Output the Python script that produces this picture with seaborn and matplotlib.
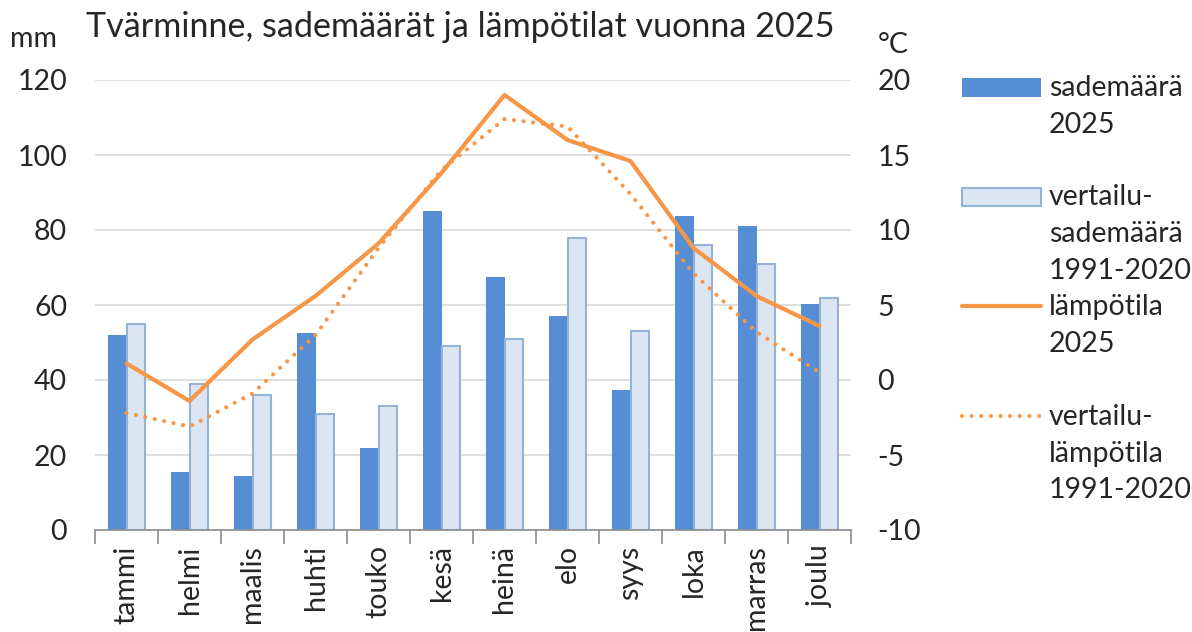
import numpy as np
import pandas as pd
import matplotlib
matplotlib.use("Agg")
import matplotlib.pyplot as plt
import seaborn as sns
from matplotlib.patches import Rectangle
from matplotlib.lines import Line2D

# data
kuukaudet = ["tammi", "helmi", "maalis", "huhti", "touko", "kesä",
             "heinä", "elo", "syys", "loka", "marras", "joulu"]
sade_2025 = [52, 15.5, 14.5, 52.5, 21.8, 85, 67.5, 57.2, 37.3, 83.8, 81.2, 60.4]
sade_vertailu = [55, 39, 36, 31, 33, 49, 51, 78, 53, 76, 71, 62]
lampo_2025 = [1.1, -1.4, 2.7, 5.6, 9.1, 13.8, 19.0, 16.0, 14.6, 8.8, 5.6, 3.6]
lampo_vertailu = [-2.2, -3.1, -0.9, 3.0, 8.8, 14.0, 17.4, 16.9, 12.4, 7.1, 3.2, 0.5]
sarjat = ["sademäärä\n2025", "vertailu-\nsademäärä\n1991-2020",
          "lämpötila\n2025", "vertailu-\nlämpötila\n1991-2020"]

sininen = "#558ED5"
vaalea = "#DCE6F2"
reuna = "#95B3D7"
oranssi = "#F79646"

sns.set_theme(style="white")
plt.rcParams['font.family'] = ['Lato', 'DejaVu Sans']
plt.rcParams['axes.unicode_minus'] = False
fs = 20.5

W, H = 1192, 632
fig = plt.figure(figsize=(W / 100, H / 100), dpi=100)
ax = fig.add_axes([95 / W, 1 - 530 / H, (851 - 95) / W, (530 - 80) / H])

df = pd.DataFrame({
    "kk": kuukaudet * 2,
    "mm": sade_2025 + sade_vertailu,
    "sarja": [sarjat[0]] * 12 + [sarjat[1]] * 12,
})
sns.barplot(data=df, x="kk", y="mm", hue="sarja", palette=[sininen, vaalea],
            width=0.58, gap=0, legend=False, ax=ax, saturation=1, zorder=2)
for bar in ax.containers[1]:
    bar.set_edgecolor(reuna)
    bar.set_linewidth(1.5)
for bar in ax.containers[0]:
    bar.set_linewidth(0)

ax.set_ylim(0, 120)
ax.set_yticks(range(0, 121, 20))
ax.set_xlim(-0.5, 11.5)
ax.set_xlabel("")
ax.set_ylabel("")
ax.grid(axis="y", color="#D9D9D9", linewidth=1.2, zorder=0)
ax.set_axisbelow(True)
for s in ["left", "right", "top"]:
    ax.spines[s].set_visible(False)
ax.spines["bottom"].set_color("#8C8C8C")
ax.spines["bottom"].set_linewidth(1.2)
ax.tick_params(axis="y", length=0, pad=20, labelsize=fs)
ax.tick_params(axis="x", which="major", length=0, pad=11, labelsize=fs, labelrotation=90)
ax.set_xticks(np.arange(-0.5, 12, 1), minor=True)
ax.tick_params(axis="x", which="minor", length=10, width=1.2, color="#8C8C8C", bottom=True)

ax2 = ax.twinx()
x = np.arange(len(kuukaudet))
sns.lineplot(x=x, y=lampo_2025, ax=ax2, color=oranssi, linewidth=3)
sns.lineplot(x=x, y=lampo_vertailu, ax=ax2, color=oranssi, linewidth=3,
             dashes=False)
dotted = ax2.lines[1]
dotted.set_dashes([0.01, 2.3])
dotted.set_dash_capstyle("round")
ax2.set_ylim(-10, 20)
ax2.set_yticks(range(-10, 21, 5))
ax2.set_xlim(-0.5, 11.5)
for s in ax2.spines.values():
    s.set_visible(False)
ax2.tick_params(axis="y", length=0, pad=19, labelsize=fs)
ax2.grid(False)

fig.text(86 / W, 1 - 37 / H, "Tvärminne, sademäärät ja lämpötilat vuonna 2025",
         fontsize=24.6, va="baseline", ha="left")
fig.text(10 / W, 1 - 47 / H, "mm", fontsize=fs, va="baseline", ha="left")
fig.text(878 / W, 1 - 53 / H, "°C", fontsize=fs, va="baseline", ha="left")

# legend drawn by hand
kahva_x0, kahva_x1, teksti_x = 962 / W, 1041 / W, 1049 / W
kahva_y = [87.5, 197, 306, 416]
rivit = [[96, 133], [205, 242, 279], [315, 352], [425, 462, 498]]
for i, (nimi, ys) in enumerate(zip(sarjat, rivit)):
    yc = 1 - kahva_y[i] / H
    if i == 0:
        fig.add_artist(Rectangle((kahva_x0, yc - 9.5 / H), kahva_x1 - kahva_x0, 19 / H,
                                 transform=fig.transFigure, fc=sininen, ec="none"))
    elif i == 1:
        fig.add_artist(Rectangle((kahva_x0, yc - 9 / H), kahva_x1 - kahva_x0, 18 / H,
                                 transform=fig.transFigure, fc=vaalea, ec=reuna, lw=1.5))
    elif i == 2:
        fig.add_artist(Line2D([kahva_x0, kahva_x1], [yc, yc], transform=fig.transFigure,
                              color=oranssi, lw=3))
    else:
        l = Line2D([kahva_x0, kahva_x1], [yc, yc], transform=fig.transFigure,
                   color=oranssi, lw=3, dash_capstyle="round")
        l.set_dashes([0.01, 2.3])
        fig.add_artist(l)
    for rivi, y in zip(nimi.split("\n"), ys):
        fig.text(teksti_x, 1 - y / H, rivi, fontsize=fs, va="baseline", ha="left")

fig.savefig("out.png", dpi=100)
